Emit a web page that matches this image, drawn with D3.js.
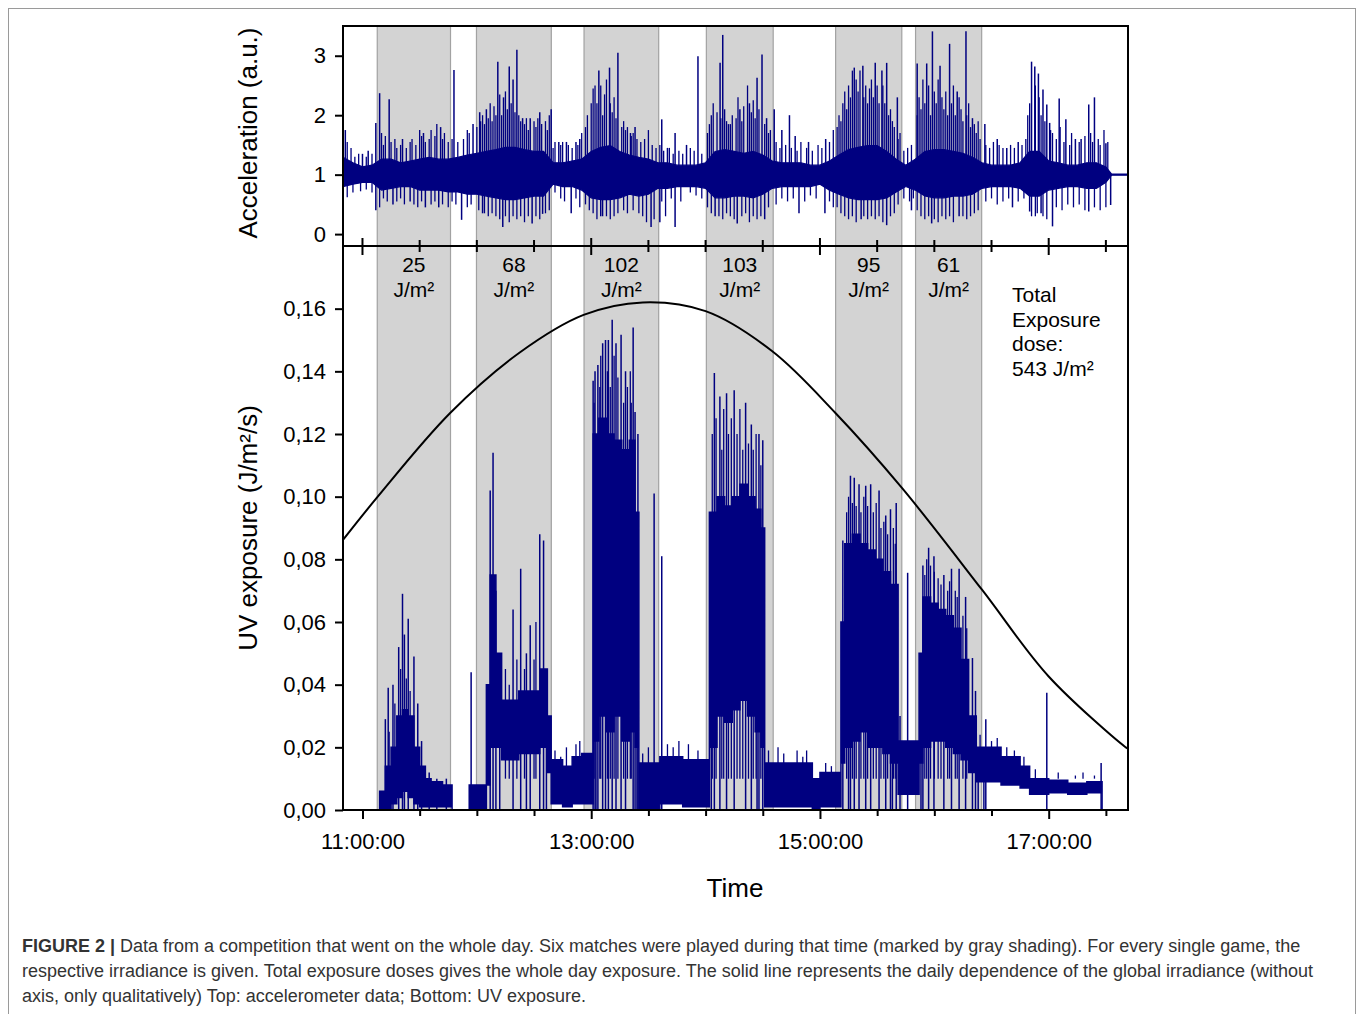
<!DOCTYPE html>
<html>
<head>
<meta charset="utf-8">
<script src="https://cdn.jsdelivr.net/npm/d3@7"></script>
<style>
  body { margin: 0; background: #fff; }
  svg text { font-family: Arial, "Liberation Sans", sans-serif; fill: #000; }
</style>
</head>
<body>
<svg id="chart" width="1362" height="1014"></svg>
<script>
// Matches (gray shading) and their doses
var bandStart = ["11:07:45", "11:59:48", "12:56:14", "14:00:24", "15:08:13", "15:50:09"];
var bandEnd   = ["11:46:11", "12:39:04", "13:35:24", "14:35:28", "15:42:56", "16:24:50"];
var bandDose  = [25, 68, 102, 103, 95, 61];

// Accelerometer: dense core (hi / lo), tall spikes and smaller hairs
var accTime = ["10:50","10:55","11:00","11:05","11:10","11:15","11:20","11:25","11:30","11:35","11:40","11:45",
  "11:50","11:55","12:00","12:05","12:10","12:15","12:20","12:25","12:30","12:35","12:40","12:45","12:50","12:55",
  "13:00","13:05","13:10","13:15","13:20","13:25","13:30","13:35","13:40","13:45","13:50","13:55","14:00","14:05",
  "14:10","14:15","14:20","14:25","14:30","14:35","14:40","14:45","14:50","14:55","15:00","15:05","15:10","15:15",
  "15:20","15:25","15:30","15:35","15:40","15:45","15:50","15:55","16:00","16:05","16:10","16:15","16:20","16:25",
  "16:30","16:35","16:40","16:45","16:50","16:55","17:00","17:05","17:10","17:15","17:20","17:25","17:30","17:33","17:41"];
var accHi = [1.29,1.2,1.13,1.16,1.26,1.26,1.2,1.23,1.26,1.29,1.26,1.26,
  1.29,1.33,1.36,1.39,1.42,1.46,1.46,1.42,1.39,1.39,1.2,1.2,1.23,1.26,
  1.39,1.46,1.49,1.39,1.33,1.29,1.26,1.2,1.2,1.16,1.16,1.16,1.2,1.39,
  1.42,1.39,1.36,1.39,1.33,1.23,1.2,1.2,1.2,1.16,1.16,1.23,1.33,1.42,
  1.46,1.49,1.49,1.39,1.26,1.16,1.26,1.39,1.42,1.42,1.39,1.36,1.29,1.2,
  1.16,1.16,1.16,1.2,1.39,1.39,1.23,1.2,1.16,1.16,1.2,1.2,1.13,1.01,1.01];
var accLo = [0.8,0.84,0.87,0.87,0.74,0.77,0.8,0.8,0.74,0.74,0.74,0.71,
  0.71,0.67,0.67,0.64,0.61,0.58,0.58,0.61,0.64,0.64,0.84,0.8,0.8,0.74,
  0.61,0.58,0.58,0.61,0.67,0.64,0.67,0.77,0.77,0.8,0.8,0.8,0.77,0.61,
  0.61,0.64,0.64,0.61,0.67,0.77,0.8,0.8,0.8,0.8,0.84,0.74,0.67,0.61,
  0.58,0.58,0.58,0.61,0.71,0.8,0.74,0.64,0.61,0.61,0.64,0.64,0.67,0.77,
  0.8,0.8,0.8,0.77,0.64,0.64,0.74,0.77,0.8,0.8,0.77,0.77,0.87,0.99,0.99];
var accSpikeTime = ["10:51","11:00","11:03","11:07","11:09","11:14","11:21","11:32","11:41","11:48","11:58","12:01:30",
  "12:05","12:11","12:14","12:17","12:19","12:21","12:24","12:28","12:33","12:39","12:43","12:47","12:52","12:54",
  "13:04","13:09:36","13:14","13:20:36","13:23","13:37","13:40","13:44","13:50","13:56","14:07:36","14:09","14:12",
  "14:18","14:23","14:27","14:29:36","14:32","14:36","14:40","14:44","14:47","14:54","15:03","15:14","15:18",
  "15:22:30","15:29","15:32:30","15:35","15:40:36","15:51","15:56","15:59","16:03","16:08","16:12","16:16:36",
  "16:20","16:26:30","16:33","16:38","16:44","16:51","16:52:42","16:54:36","16:57","16:59","17:00:30","17:05:30",
  "17:09","17:14","17:17","17:21","17:24","17:30",
  // downward
  "11:07","11:16","11:25","11:33","11:40","11:52","12:03","12:13:36","12:29","12:34:30","12:49:30","13:05",
  "13:31:24","13:36","13:44","14:05","14:16:36","14:31","14:49","15:02:36","15:21:36","15:35","15:48","15:58:36",
  "16:13","16:41","16:50","16:56","17:02","17:21","17:32:30"];
var accSpikeValue = [1.75,1.35,1.4,1.87,2.37,2.27,1.6,1.7,1.8,2.76,1.85,2.05,
  2.1,2.9,2.3,2.82,2.6,3.1,1.95,1.95,2.05,2.1,1.55,1.55,1.55,1.6,
  2.75,2.8,3.05,1.7,1.8,1.93,1.45,1.7,1.5,2.99,2.88,3.35,1.85,
  2.1,2.2,2.63,3.02,1.95,2.1,1.75,2.0,1.65,1.55,1.6,2.1,2.8,
  2.83,2.88,2.75,2.88,2.3,2.87,2.87,3.41,2.83,3.2,2.4,3.41,
  1.95,1.85,1.6,1.45,1.55,2.9,2.82,2.7,2.43,2.18,1.87,2.28,
  1.93,1.6,1.6,2.18,2.3,1.53,
  0.4,0.5,0.55,0.45,0.45,0.24,0.35,0.12,0.18,0.34,0.35,0.3,
  0.12,0.2,0.12,0.3,0.18,0.25,0.35,0.35,0.25,0.15,0.4,0.18,
  0.3,0.45,0.38,0.35,0.13,0.38,0.49];
var accHairs = [
  ["10:52",1.55],["10:54",1.45],["10:56",1.3],["10:58",1.35],["11:02",1.3],["11:05",1.35],
  ["10:52",0.62],["10:55",0.7],["10:59",0.72],["11:02",0.75],["11:05",0.7],
  ["11:10",1.7],["11:11",1.5],["11:12",1.65],["11:15",1.55],["11:17",1.6],["11:18",1.45],["11:20",1.5],["11:23",1.45],
  ["11:25",1.55],["11:26",1.6],["11:28",1.5],["11:30",1.75],["11:31",1.65],["11:33",1.55],["11:35",1.6],["11:36",1.75],
  ["11:38",1.65],["11:39",1.85],["11:42",1.6],["11:43",1.7],["11:45",1.55],
  ["11:09",0.45],["11:11",0.6],["11:13",0.55],["11:18",0.55],["11:20",0.6],["11:22",0.5],["11:27",0.5],["11:29",0.45],
  ["11:31",0.55],["11:36",0.5],["11:38",0.55],["11:42",0.5],["11:45",0.45],
  ["11:47",1.6],["11:50",1.55],["11:53",1.6],["11:55",1.75],["11:56",1.7],
  ["11:47",0.55],["11:49",0.5],["11:55",0.45],["11:57",0.5],
  ["12:00",1.8],["12:02",1.9],["12:03",2.0],["12:04",1.85],["12:06",1.95],["12:07",2.2],["12:08",1.9],["12:09",2.15],
  ["12:10",2.0],["12:12",2.35],["12:13",2.0],["12:15",2.4],["12:16",2.1],["12:18",2.2],["12:20",2.05],["12:22",2.0],
  ["12:23",1.9],["12:25",1.85],["12:26",1.95],["12:27",1.75],["12:30",1.9],["12:31",1.8],["12:32",1.95],["12:34",1.85],
  ["12:36",1.9],["12:37",1.75],["12:38",2.0],
  ["12:01",0.4],["12:04",0.35],["12:06",0.3],["12:08",0.35],["12:10",0.3],["12:12",0.25],["12:15",0.3],["12:17",0.2],
  ["12:19",0.3],["12:21",0.25],["12:23",0.3],["12:25",0.2],["12:27",0.3],["12:31",0.3],["12:33",0.25],["12:36",0.35],["12:38",0.4],
  ["12:40",1.45],["12:41",1.55],["12:44",1.5],["12:45",1.55],["12:48",1.5],["12:50",1.45],["12:53",1.5],["12:55",1.7],
  ["12:41",0.7],["12:44",0.6],["12:46",0.55],["12:52",0.6],["12:54",0.45],
  ["12:57",1.8],["12:58",2.0],["13:00",2.2],["13:01",2.45],["13:02",2.5],["13:03",2.2],["13:05",2.5],["13:06",2.0],
  ["13:07",2.35],["13:08",2.6],["13:10",2.2],["13:11",2.05],["13:12",2.3],["13:13",1.95],["13:16",1.8],["13:17",1.9],
  ["13:18",1.75],["13:19",1.8],["13:21",1.65],["13:22",1.7],["13:24",1.6],["13:26",1.55],["13:28",1.6],["13:30",1.75],
  ["13:32",1.5],["13:34",1.45],
  ["12:57",0.5],["12:59",0.4],["13:01",0.35],["13:03",0.25],["13:06",0.3],["13:08",0.3],["13:10",0.25],["13:12",0.3],
  ["13:14",0.35],["13:17",0.4],["13:19",0.35],["13:22",0.4],["13:25",0.35],["13:27",0.3],["13:29",0.2],["13:33",0.25],
  ["13:36",1.5],["13:38",1.4],["13:41",1.45],["13:43",1.35],["13:46",1.4],["13:48",1.35],["13:52",1.45],["13:54",1.4],["13:58",1.35],
  ["13:37",0.55],["13:39",0.3],["13:42",0.6],["13:47",0.55],["13:52",0.7],["13:55",0.65],["13:58",0.6],
  ["14:01",1.7],["14:02",1.85],["14:03",2.0],["14:04",2.2],["14:06",2.05],["14:08",1.95],["14:10",2.1],["14:11",1.9],
  ["14:13",1.85],["14:14",2.0],["14:16",1.95],["14:17",2.3],["14:19",1.9],["14:20",2.15],["14:22",2.5],["14:24",2.05],
  ["14:25",2.25],["14:26",1.95],["14:28",2.1],["14:31",1.85],["14:33",1.7],["14:34",1.75],
  ["14:01",0.45],["14:03",0.35],["14:07",0.3],["14:09",0.25],["14:11",0.35],["14:13",0.3],["14:15",0.25],["14:19",0.3],
  ["14:21",0.35],["14:23",0.2],["14:25",0.3],["14:27",0.25],["14:29",0.3],["14:33",0.45],
  ["14:37",1.55],["14:39",1.45],["14:42",1.5],["14:45",1.45],["14:48",1.4],["14:50",1.55],["14:53",1.45],["14:56",1.4],
  ["14:59",1.5],["15:01",1.45],["15:05",1.55],["15:07",1.75],
  ["14:37",0.5],["14:40",0.6],["14:43",0.55],["14:46",0.6],["14:52",0.55],["14:55",0.65],["14:58",0.6],["15:05",0.55],["15:07",0.45],
  ["15:09",1.8],["15:10",2.0],["15:11",1.9],["15:12",2.2],["15:13",2.4],["15:15",2.5],["15:16",2.3],["15:17",2.75],
  ["15:19",2.6],["15:20",2.4],["15:21",2.75],["15:23",2.3],["15:24",2.5],["15:25",2.2],["15:26",2.45],["15:27",2.6],
  ["15:28",2.3],["15:30",2.5],["15:31",2.2],["15:33",2.5],["15:34",2.2],["15:36",2.0],["15:37",2.1],["15:38",1.9],
  ["15:39",1.8],["15:41",1.6],["15:42",1.7],
  ["15:09",0.45],["15:11",0.35],["15:13",0.3],["15:15",0.25],["15:17",0.3],["15:19",0.2],["15:23",0.3],["15:25",0.25],
  ["15:27",0.3],["15:29",0.25],["15:31",0.3],["15:33",0.2],["15:37",0.3],["15:39",0.35],["15:41",0.5],
  ["15:44",1.4],["15:46",1.45],["15:48",1.5],["15:44",0.6],["15:47",0.55],["15:49",0.6],
  ["15:51",2.0],["15:52",2.3],["15:53",2.1],["15:54",2.6],["15:55",2.2],["15:57",2.5],["15:58",2.0],["16:00",2.4],
  ["16:01",2.2],["16:02",2.6],["16:04",2.3],["16:05",2.1],["16:06",2.4],["16:07",2.0],["16:09",2.2],["16:10",2.5],
  ["16:11",2.0],["16:13",2.3],["16:14",2.1],["16:15",1.9],["16:17",2.0],["16:18",2.2],["16:19",1.8],["16:21",1.85],
  ["16:22",1.7],["16:23",1.9],["16:24",1.6],
  ["15:51",0.4],["15:53",0.3],["15:55",0.25],["15:57",0.3],["16:00",0.25],["16:02",0.2],["16:04",0.3],["16:06",0.25],
  ["16:08",0.3],["16:10",0.2],["16:15",0.3],["16:17",0.25],["16:19",0.3],["16:21",0.35],["16:23",0.4],
  ["16:27",1.5],["16:29",1.45],["16:31",1.55],["16:34",1.5],["16:36",1.45],["16:40",1.5],["16:42",1.45],["16:46",1.5],["16:48",1.6],
  ["16:27",0.55],["16:30",0.6],["16:33",0.5],["16:36",0.55],["16:39",0.6],["16:44",0.55],["16:47",0.6],
  ["16:49",2.0],["16:50",2.2],["16:53",2.5],["16:55",2.3],["16:56",2.0],["16:58",1.9],["17:01",1.75],["17:02",1.7],
  ["16:51",0.3],["16:53",0.3],["16:54",0.35],["16:57",0.3],["16:59",0.25],
  ["17:04",1.6],["17:06",1.8],["17:08",1.55],["17:11",1.5],["17:12",1.7],["17:16",1.55],["17:19",1.65],["17:22",1.7],
  ["17:23",1.55],["17:26",1.6],["17:27",1.5],["17:29",1.75],["17:31",1.55],
  ["17:04",0.45],["17:07",0.4],["17:10",0.5],["17:13",0.45],["17:16",0.5],["17:19",0.4],["17:24",0.45],["17:27",0.4],["17:30",0.45]
];

// UV exposure: stepped core (hi / lo) and single spikes
var uvTime = ["10:50","11:09","11:12","11:15","11:18","11:21","11:24","11:27","11:30","11:33","11:36","11:42","11:47",
  "11:56","12:05","12:07","12:10","12:13","12:22","12:33","12:37","12:39","12:45","12:50","12:55",
  "13:01","13:04","13:08","13:12","13:16","13:20","13:23","13:25","13:36","13:48",
  "14:02","14:06","14:10","14:14","14:18","14:22","14:26","14:29","14:31","14:45","14:56","15:00",
  "15:11","15:13","15:17","15:21","15:25","15:29","15:33","15:37","15:41",
  "15:52","15:54","15:58","16:02","16:06","16:10","16:14","16:18","16:22","16:35","16:45","16:50",
  "17:00","17:10","17:20","17:28","17:41"];
var uvHi = [0,0.006,0.014,0.02,0.03,0.032,0.03,0.02,0.014,0.01,0.009,0.008,0,
  0.008,0.04,0.075,0.05,0.035,0.038,0.045,0.03,0.016,0.014,0.017,0.018,
  0.12,0.125,0.12,0.118,0.115,0.118,0.095,0.015,0.017,0.016,
  0.095,0.1,0.097,0.1,0.104,0.1,0.096,0.09,0.015,0.015,0.01,0.012,
  0.06,0.085,0.088,0.085,0.083,0.08,0.076,0.072,0.022,
  0.05,0.068,0.066,0.064,0.062,0.058,0.048,0.03,0.02,0.017,0.014,0.01,
  0.0095,0.0085,0.009,0,0];
var uvLo = [0,0,0,0.002,0.004,0.006,0.004,0.002,0.001,0.001,0.001,0.001,0,
  0,0.008,0.02,0.02,0.016,0.018,0.02,0.012,0.002,0.001,0.002,0.002,
  0.022,0.03,0.025,0.03,0.022,0.025,0.02,0,0.002,0.001,
  0.02,0.03,0.028,0.032,0.035,0.03,0.025,0.02,0.001,0.001,0,0.001,
  0.015,0.02,0.022,0.025,0.02,0.02,0.018,0.015,0.005,
  0.015,0.02,0.022,0.022,0.02,0.018,0.016,0.012,0.009,0.008,0.007,0.005,
  0.0055,0.005,0.0055,0,0];
var uvSpikeTime = ["11:12","11:13:30","11:16","11:19","11:21","11:22","11:24","11:27","11:29","11:31","11:35","11:39","11:44",
  "11:57","12:07","12:08:30","12:10","12:12","12:19","12:23","12:26","12:28","12:33","12:35","12:36:30",
  "13:01","13:02","13:03:30","13:06","13:07:30","13:09","13:11","13:13","13:15:40","13:18","13:22","13:23","13:24:30",
  "13:33","13:37","14:04:36","14:07:30","14:11","14:15","14:21","14:24","14:28","14:30",
  "15:12","15:16","15:18","15:20:30","15:24","15:26:36","15:31","15:34:30","15:37","15:40","15:46",
  "15:54","15:57","15:59:48","16:05","16:09","16:13","16:16:24","16:20","16:21:36","16:27","16:59","17:27:30",
  // drops to zero below the dense parts
  "13:02:30","13:24","14:03","14:27","15:15","15:38","15:42","15:53","16:23","16:26"];
var uvSpikeValue = [0.029,0.039,0.040,0.052,0.069,0.056,0.061,0.049,0.034,0.022,0.012,0.010,0.010,
  0.044,0.102,0.114,0.07,0.044,0.064,0.077,0.05,0.059,0.088,0.086,0.032,
  0.137,0.140,0.142,0.149,0.150,0.150,0.1565,0.149,0.1517,0.140,0.154,0.127,0.12,
  0.101,0.081,0.1395,0.132,0.133,0.134,0.130,0.123,0.12,0.118,
  0.086,0.1067,0.106,0.104,0.1035,0.104,0.102,0.094,0.096,0.098,0.0757,
  0.078,0.0837,0.081,0.075,0.077,0.077,0.068,0.0485,0.038,0.029,0.0374,0.015,
  0.03,0.03,0.03,0.03,0.02,0.02,0.03,0.02,0.02,0.02];
var uvHairs = [
  ["11:14",0.025],["11:17",0.034],["11:20",0.045],["11:23",0.042],["11:25",0.038],["11:26",0.03],
  ["12:15",0.045],["12:17",0.04],["12:21",0.048],["12:25",0.045],["12:30",0.048],["12:31",0.06],
  ["12:41",0.019],["12:44",0.017],["12:47",0.02],["12:52",0.021],["12:54",0.022],
  ["13:01:30",0.13],["13:04:30",0.135],["13:05",0.145],["13:08:30",0.14],["13:10",0.135],["13:12",0.145],
  ["13:14",0.138],["13:17",0.13],["13:19",0.135],["13:20:30",0.14],["13:21",0.13],
  ["13:27",0.018],["13:30",0.02],["13:40",0.021],["13:43",0.02],["13:46",0.022],["13:51",0.021],["13:56",0.019],
  ["14:03:30",0.12],["14:05:30",0.125],["14:08:30",0.115],["14:09:30",0.128],["14:12",0.12],["14:13:30",0.125],
  ["14:16:30",0.12],["14:18",0.128],["14:19:30",0.115],["14:22:30",0.117],["14:25",0.115],["14:26:30",0.12],["14:29",0.11],
  ["14:33",0.019],["14:38",0.02],["14:41",0.018],["14:48",0.019],["14:51",0.017],["14:53",0.019],["15:03",0.015],["15:06",0.014],
  ["15:14",0.095],["15:15",0.1],["15:17",0.098],["15:19",0.097],["15:21:30",0.095],["15:23",0.1],["15:25",0.097],
  ["15:28",0.095],["15:29:30",0.098],["15:32",0.09],["15:33:30",0.092],["15:35:30",0.088],["15:38:30",0.09],["15:39:30",0.085],
  ["15:55",0.075],["15:56",0.08],["15:58",0.078],["16:00",0.076],["16:02",0.074],["16:03:30",0.072],["16:07",0.07],
  ["16:08",0.073],["16:11",0.07],["16:12",0.068],["16:15",0.062],["16:17",0.058],
  ["16:24",0.024],["16:30",0.022],["16:33",0.023],["16:38",0.02],["16:42",0.019],["16:47",0.017],["16:53",0.013],
  ["17:05",0.012],["17:14",0.011],["17:18",0.012],["17:24",0.011]
];

// Global irradiance (qualitative, drawn on the UV scale)
var sunTime  = ["10:49:47","11:08","11:46","12:22:30","12:56","13:27","14:00","14:35","15:08","15:43",
  "16:25","17:00","17:40","17:41:36"];
var sunValue = [0.0862,0.10,0.1267,0.146,0.158,0.162,0.1592,0.1464,0.1268,0.1028,
  0.0703,0.0426,0.0202,0.0196];

var parseT = d3.timeParse("%H:%M:%S");
function T(s) { return parseT(s.length == 5 ? s + ":00" : s); }

var navy = "#000080";
var svg = d3.select("#chart");

var x = d3.scaleTime().domain([T("10:49:47"), T("17:41:36")]).range([343, 1128]);
var yAcc = d3.scaleLinear().domain([-0.2, 3.5]).range([246, 26]);
var yUV = d3.scaleLinear().domain([0, 0.18]).range([810, 246]);

// outer figure frame
svg.append("rect")
  .attr("x", 8.5).attr("y", 8.5).attr("width", 1347).attr("height", 1020)
  .attr("fill", "none").attr("stroke", "#9a9a9a").attr("stroke-width", 1);

// gray shading of the matches
svg.append("g").selectAll("rect")
  .data(bandStart)
  .enter().append("rect")
  .attr("x", (d) => x(T(d)))
  .attr("y", 26)
  .attr("width", (d, i) => x(T(bandEnd[i])) - x(T(d)))
  .attr("height", 784)
  .attr("fill", "#d3d3d3")
  .attr("stroke", "#a2a2a2")
  .attr("stroke-width", 1.2);

var defs = svg.append("defs");
defs.append("clipPath").attr("id", "clipTop")
  .append("rect").attr("x", 343).attr("y", 26).attr("width", 785).attr("height", 220);
defs.append("clipPath").attr("id", "clipBottom")
  .append("rect").attr("x", 343).attr("y", 246).attr("width", 786).attr("height", 565);

// vertical hair lines from a base level
function hairs(g, times, values, y, base, width) {
  g.append("g").selectAll("line")
    .data(times)
    .enter().append("line")
    .attr("x1", (d) => x(T(d))).attr("x2", (d) => x(T(d)))
    .attr("y1", y(base))
    .attr("y2", (d, i) => y(values[i]))
    .attr("stroke", navy).attr("stroke-width", width);
}

// accelerometer
var accData = accTime.map((t, i) => ({ t: T(t), hi: accHi[i], lo: accLo[i] }));
var gAcc = svg.append("g").attr("clip-path", "url(#clipTop)");
gAcc.append("path")
  .datum(accData)
  .attr("d", d3.area().x((d) => x(d.t)).y0((d) => yAcc(d.lo)).y1((d) => yAcc(d.hi)))
  .attr("fill", navy).attr("stroke", navy).attr("stroke-width", 1.2);
hairs(gAcc, accHairs.map((d) => d[0]), accHairs.map((d) => d[1]), yAcc, 1, 1.3);
hairs(gAcc, accSpikeTime, accSpikeValue, yAcc, 1, 1.5);

// UV exposure
var uvData = uvTime.map((t, i) => ({ t: T(t), hi: uvHi[i], lo: uvLo[i] }));
var gUV = svg.append("g").attr("clip-path", "url(#clipBottom)");
gUV.append("path")
  .datum(uvData)
  .attr("d", d3.area().curve(d3.curveStepAfter)
    .x((d) => x(d.t)).y0((d) => yUV(d.lo)).y1((d) => yUV(d.hi)))
  .attr("fill", navy).attr("stroke", navy).attr("stroke-width", 1.5);
hairs(gUV, uvHairs.map((d) => d[0]), uvHairs.map((d) => d[1]), yUV, 0.01, 1.3);
hairs(gUV, uvSpikeTime, uvSpikeValue, yUV, 0, 1.5);

// irradiance curve
gUV.append("path")
  .datum(sunTime.map((t, i) => ({ t: T(t), v: sunValue[i] })))
  .attr("d", d3.line().curve(d3.curveCatmullRom.alpha(0.5)).x((d) => x(d.t)).y((d) => yUV(d.v)))
  .attr("fill", "none").attr("stroke", "#000").attr("stroke-width", 2);

// panel frames
svg.append("rect")
  .attr("x", 343).attr("y", 26).attr("width", 785).attr("height", 220)
  .attr("fill", "none").attr("stroke", "#000").attr("stroke-width", 2);
svg.append("path")
  .attr("d", "M343,246V810H1128V246")
  .attr("fill", "none").attr("stroke", "#000").attr("stroke-width", 2);

// time ticks: odd hours are labelled and longer
var halfHours = x.ticks(d3.timeMinute.every(30));
function major(d) { return d.getMinutes() == 0 && d.getHours() % 2 == 1; }
var fmtTime = d3.timeFormat("%H:%M:%S");

svg.append("g").selectAll("line")
  .data(halfHours)
  .enter().append("line")
  .attr("x1", (d) => x(d)).attr("x2", (d) => x(d))
  .attr("y1", (d) => major(d) ? 238 : 240)
  .attr("y2", (d) => major(d) ? 255 : 252)
  .attr("stroke", "#000").attr("stroke-width", 2);

var xAxis = svg.append("g")
  .attr("transform", "translate(0,810)")
  .call(d3.axisBottom(x).tickValues(halfHours).tickSize(6).tickSizeOuter(0)
    .tickFormat((d) => major(d) ? fmtTime(d) : ""));
xAxis.select(".domain").remove();
xAxis.selectAll(".tick line").attr("stroke-width", 2).attr("y2", (d) => major(d) ? 9 : 6);
xAxis.selectAll(".tick text").attr("font-size", 22).attr("dy", "1.05em").attr("y", 16);

var accAxis = svg.append("g")
  .attr("transform", "translate(343,0)")
  .call(d3.axisLeft(yAcc).tickValues([0, 1, 2, 3]).tickSize(8).tickPadding(9).tickSizeOuter(0)
    .tickFormat(d3.format("d")));
accAxis.select(".domain").remove();
accAxis.selectAll(".tick line").attr("stroke-width", 2);
accAxis.selectAll(".tick text").attr("font-size", 22);

var uvAxis = svg.append("g")
  .attr("transform", "translate(343,0)")
  .call(d3.axisLeft(yUV).tickValues(d3.range(0, 0.161, 0.02)).tickSize(8).tickPadding(9).tickSizeOuter(0)
    .tickFormat((d) => d3.format(".2f")(d).replace(".", ",")));
uvAxis.select(".domain").remove();
uvAxis.selectAll(".tick line").attr("stroke-width", 2);
uvAxis.selectAll(".tick text").attr("font-size", 22);

// axis titles
svg.append("text")
  .attr("transform", "translate(257,133) rotate(-90)")
  .attr("text-anchor", "middle").attr("font-size", 26)
  .text("Acceleration (a.u.)");
svg.append("text")
  .attr("transform", "translate(257,528) rotate(-90)")
  .attr("text-anchor", "middle").attr("font-size", 26)
  .text("UV exposure (J/m²/s)");
svg.append("text")
  .attr("x", 735).attr("y", 897)
  .attr("text-anchor", "middle").attr("font-size", 26)
  .text("Time");

// dose per match
function bandMid(i) { return (x(T(bandStart[i])) + x(T(bandEnd[i]))) / 2; }
var doseLabels = svg.append("g").selectAll("text")
  .data(bandDose)
  .enter().append("text")
  .attr("text-anchor", "middle").attr("font-size", 21);
doseLabels.append("tspan").attr("x", (d, i) => bandMid(i)).attr("y", 272).text((d) => d);
doseLabels.append("tspan").attr("x", (d, i) => bandMid(i)).attr("y", 297).text("J/m²");

var total = svg.append("text").attr("font-size", 21);
["Total", "Exposure", "dose:", "543 J/m²"].forEach(function(s, i) {
  total.append("tspan").attr("x", 1012).attr("y", 302 + i * 24.5).text(s);
});

// caption
var caption = [
  "Data from a competition that went on the whole day. Six matches were played during that time (marked by gray shading). For every single game, the",
  "respective irradiance is given. Total exposure doses gives the whole day exposure. The solid line represents the daily dependence of the global irradiance (without",
  "axis, only qualitatively) Top: accelerometer data; Bottom: UV exposure."
];
var cap = svg.append("g").attr("font-size", 18);
caption.forEach(function(s, i) {
  var t = cap.append("text").attr("x", 22).attr("y", 952 + i * 25).style("fill", "#333");
  if (i == 0) t.append("tspan").attr("font-weight", "bold").text("FIGURE 2 | ");
  t.append("tspan").text(s);
});
</script>
</body>
</html>
